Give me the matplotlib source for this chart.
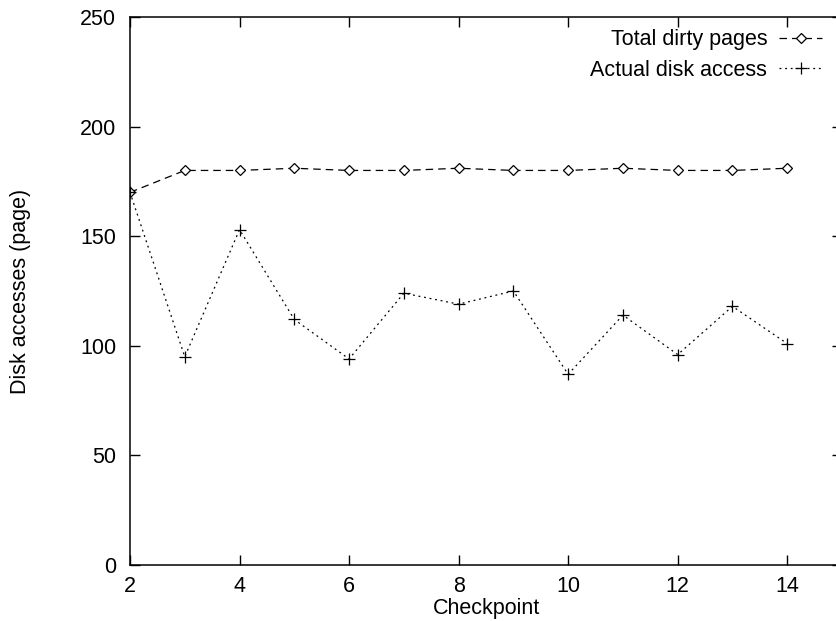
import matplotlib
matplotlib.use("Agg")
import matplotlib.pyplot as plt

checkpoints = [2, 3, 4, 5, 6, 7, 8, 9, 10, 11, 12, 13, 14]
total_dirty = [170, 180, 180, 181, 180, 180, 181, 180, 180, 181, 180, 180, 181]
actual_disk = [170, 95, 153, 112, 94, 124, 119, 125, 87, 114, 96, 118, 101]

plt.rcParams['font.family'] = ['Liberation Sans', 'DejaVu Sans']
FS = 15.5

fig = plt.figure(figsize=(8.36, 6.21), dpi=100)
# gnuplot-style frame; the right edge runs slightly past the picture
ax = fig.add_axes([130 / 836, 56 / 621, 712 / 836, 548 / 621])

ax.plot(checkpoints, total_dirty, color='black', lw=0.9, linestyle=(0, (6, 4)),
        marker='D', markersize=5.5, markerfacecolor='white', markeredgewidth=0.9,
        label='Total dirty pages')
ax.plot(checkpoints, actual_disk, color='black', lw=0.9, linestyle=(0, (1.5, 3)),
        marker='+', markersize=9, markeredgewidth=0.9,
        label='Actual disk access')

ax.set_xlim(2, 15)
ax.set_ylim(0, 250)
ax.set_xticks([2, 4, 6, 8, 10, 12, 14])
ax.set_yticks([0, 50, 100, 150, 200, 250])
ax.tick_params(direction='in', length=7, width=1, top=True, right=True,
               labelsize=FS)
ax.tick_params(axis='x', pad=8)
ax.tick_params(axis='y', pad=10)
for s in ax.spines.values():
    s.set_linewidth(1.1)

ax.set_xlabel('Checkpoint', fontsize=FS, labelpad=0.5)
ax.set_ylabel('Disk accesses (page)', fontsize=FS, labelpad=35)

ax.legend(loc='upper right', bbox_to_anchor=(0.972, 0.978), frameon=False,
          markerfirst=False, fontsize=FS, handlelength=2.0, handletextpad=0.55,
          labelspacing=0.45, borderaxespad=0, borderpad=0)

fig.savefig('out.png', dpi=100)
